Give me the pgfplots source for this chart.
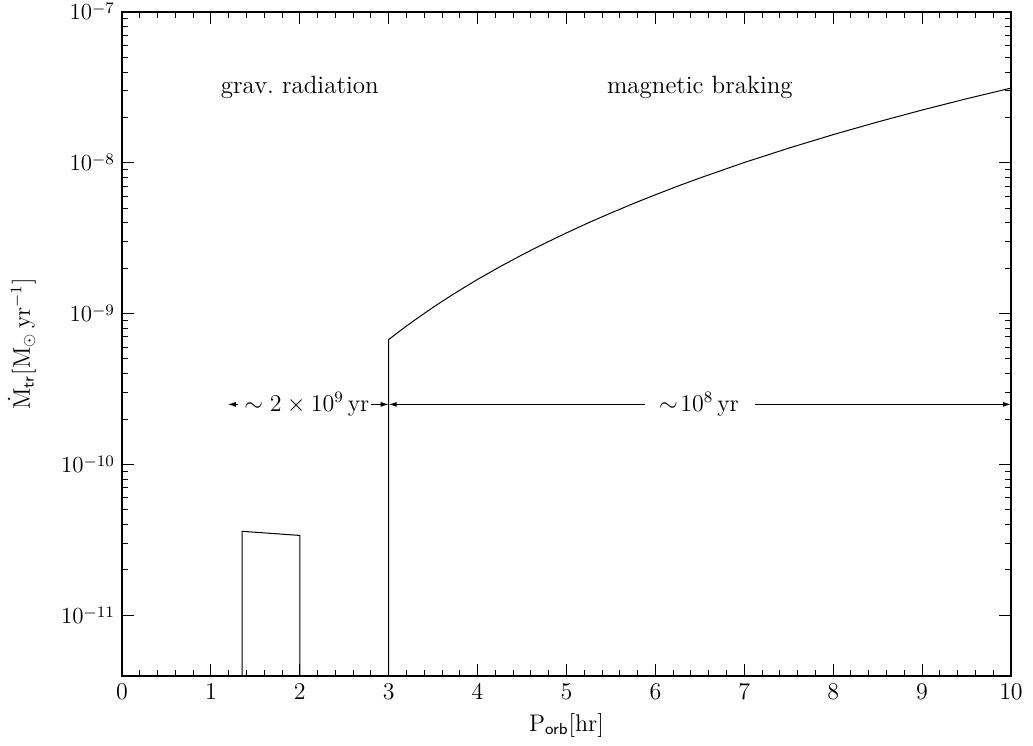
\documentclass[border=0pt]{standalone}
\usepackage{pgfplots}
\pgfplotsset{compat=1.18}
\usetikzlibrary{arrows.meta}
\newcommand\tl[1]{10\raisebox{0.6ex}{\fontsize{8}{9}\selectfont$#1$}}
\begin{document}
\fontsize{11.5}{13}\selectfont
\begin{tikzpicture}
\begin{axis}[
  scale only axis, width=444.5pt, height=332pt,
  xmin=0, xmax=10, ymode=log, ymin=3.95e-12, ymax=1e-7,
  xtick={0,1,...,10}, minor x tick num=4,
  ytick={1e-11,1e-10,1e-9,1e-8,1e-7},
  yticklabels={\tl{-11},\tl{-10},\tl{-9},\tl{-8},\tl{-7}},
  tick align=inside, major tick length=6pt, minor tick length=3pt,
  axis line style={line width=0.9pt},
  every tick/.style={black, line width=0.5pt},
  tick label style={font=\fontsize{11.5}{13}\selectfont},
  yticklabel style={inner ysep=0pt},
  label style={font=\fontsize{12}{14}\selectfont},
  xlabel={$\mathrm{P}_{\mathsf{orb}}[\mathrm{hr}]$},
  ylabel={$\dot{\mathrm{M}}_{\mathsf{tr}}[\mathrm{M}_{\odot}\,\mathrm{yr}^{-1}]$},
  x label style={at={(axis description cs:0.5,-0.0738)}, anchor=center},
  y label style={at={(axis description cs:-0.1125,0.5)}, anchor=center},
  clip=false,
]
% magnetic braking branch
\addplot[black, line width=0.5pt] coordinates {
  (3,3.95e-12) (3,6.73e-10) (3.1,7.47e-10) (3.2,8.27e-10) (3.3,9.12e-10)
  (3.4,1.003e-9) (3.5,1.101e-9) (3.6,1.204e-9) (3.7,1.314e-9) (3.8,1.430e-9)
  (3.9,1.554e-9) (4,1.686e-9) (4.25,2.044e-9) (4.5,2.453e-9) (4.75,2.914e-9)
  (5,3.43e-9) (5.25,4.01e-9) (5.5,4.65e-9) (5.75,5.36e-9) (6,6.14e-9)
  (6.25,7.00e-9) (6.5,7.93e-9) (7,1.005e-8) (7.5,1.251e-8) (8,1.538e-8)
  (8.5,1.866e-8) (9,2.239e-8) (9.5,2.66e-8) (10,3.13e-8)
};
% gravitational radiation branch
\addplot[black, line width=0.5pt] coordinates {
  (1.35,3.95e-12) (1.35,3.6e-11) (2.0,3.38e-11) (2.0,3.95e-12)
};
% timescale arrows
\addplot[black, line width=0.5pt, -{Latex[length=4pt,width=2.5pt]}] coordinates {(1.31,2.5e-10) (1.19,2.5e-10)};
\addplot[black, line width=0.5pt, -{Latex[length=4pt,width=2.5pt]}] coordinates {(2.8,2.5e-10) (3.0,2.5e-10)};
\addplot[black, line width=0.5pt, {Latex[length=4pt,width=2.5pt]}-] coordinates {(3.0,2.5e-10) (5.88,2.5e-10)};
\addplot[black, line width=0.5pt, -{Latex[length=4pt,width=2.5pt]}] coordinates {(7.12,2.5e-10) (10,2.5e-10)};
\node at (axis cs:2.08,2.5e-10) {$\sim 2\times 10^{9}\,\mathrm{yr}$};
\node at (axis cs:6.49,2.5e-10) {$\sim\!10^{8}\,\mathrm{yr}$};
\node[font=\fontsize{12.5}{14}\selectfont] at (axis cs:2.0,3.18e-8) {grav.\ radiation};
\node[font=\fontsize{12.5}{14}\selectfont] at (axis cs:6.5,3.18e-8) {magnetic braking};
\end{axis}
\path ([shift={(-61pt,-34.5pt)}]current axis.south west) rectangle ([shift={(11pt,6pt)}]current axis.north east);
\end{tikzpicture}
\end{document}
